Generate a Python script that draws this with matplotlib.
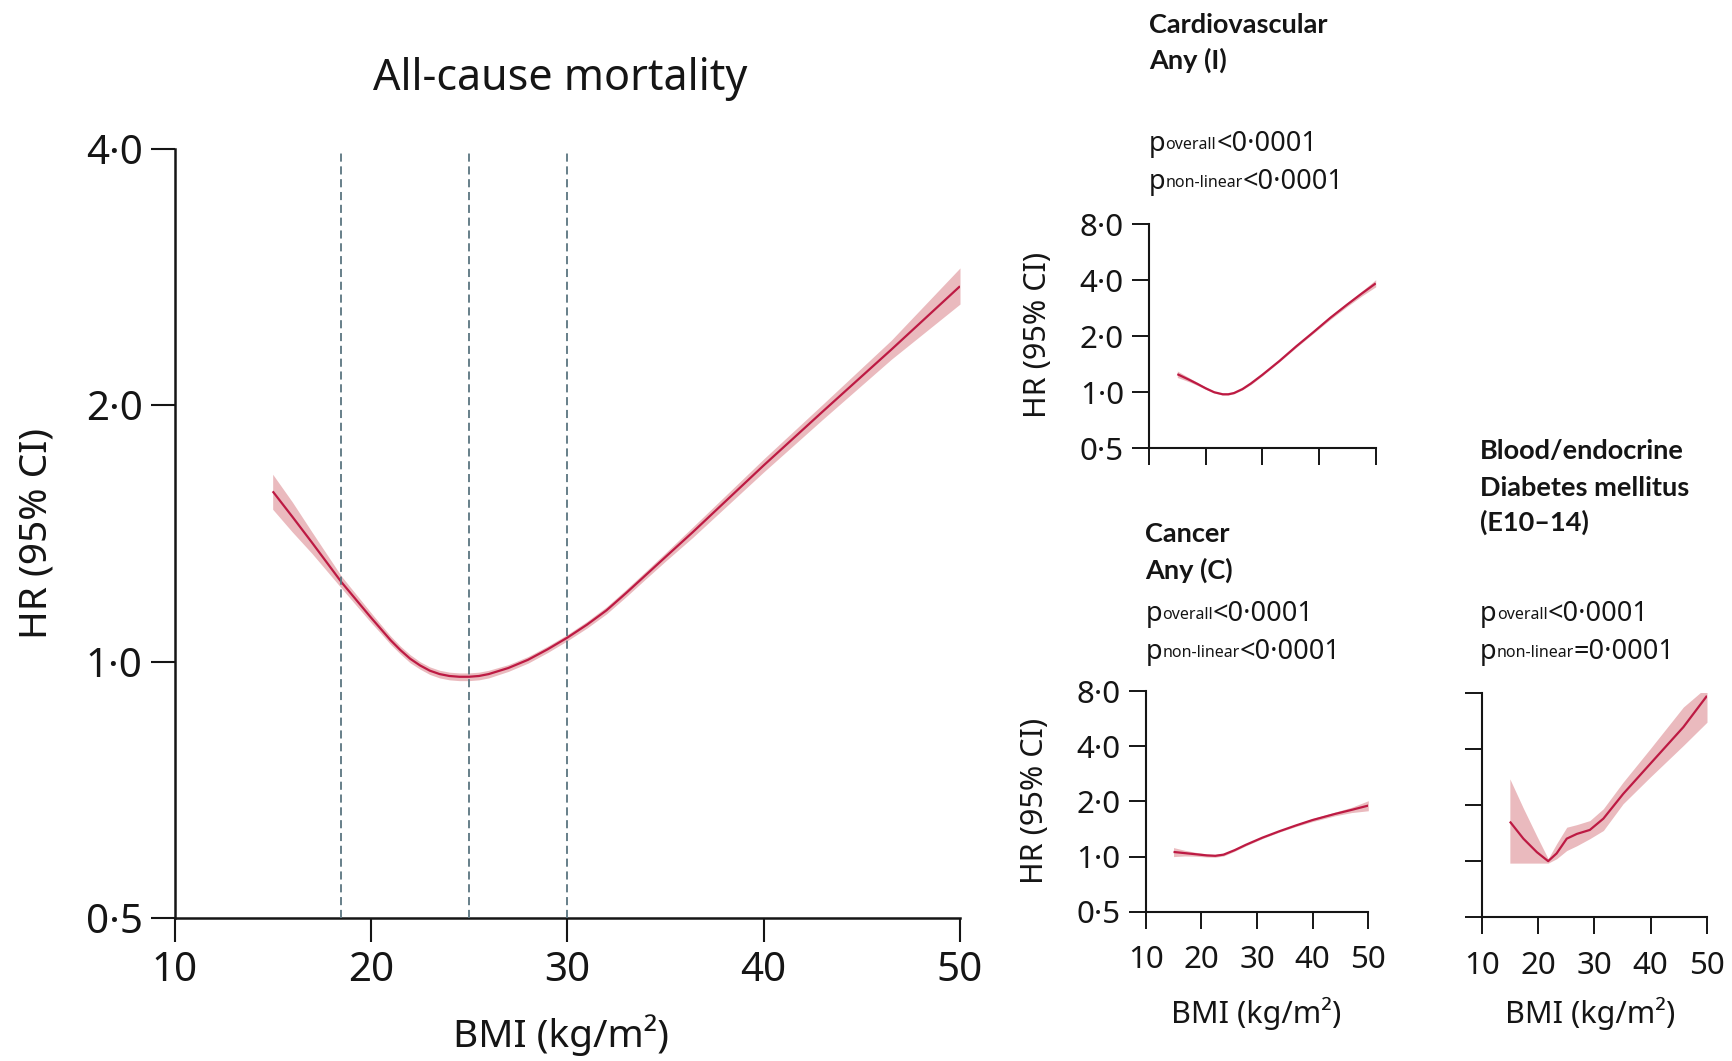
import matplotlib
matplotlib.use('Agg')
import matplotlib.pyplot as plt
from matplotlib.text import Annotation
from matplotlib.ticker import FixedLocator, FixedFormatter, NullLocator

plt.rcParams['font.family'] = ['Noto Sans', 'DejaVu Sans']

# ---------------- data ----------------
# All-cause mortality
allcause_bmi = [15, 16, 17, 18.5, 20, 20.5, 21, 21.5, 22, 22.5, 23, 23.5, 24, 24.5, 25, 25.5, 26, 27, 28, 29, 30,
                31, 32, 33, 34, 35, 36.4, 40, 43, 46.5, 50]
allcause_hr = [1.585, 1.48, 1.38, 1.24, 1.127, 1.093, 1.060, 1.032, 1.008, 0.990, 0.976, 0.967, 0.962, 0.960,
               0.960, 0.962, 0.967, 0.983, 1.005, 1.034, 1.067, 1.105, 1.149, 1.204, 1.264, 1.327, 1.42,
               1.70, 1.966, 2.325, 2.76]
allcause_lo = [1.51, 1.42, 1.34, 1.22, 1.112, 1.080, 1.048, 1.021, 0.997, 0.980, 0.966, 0.957, 0.952, 0.950,
               0.950, 0.952, 0.957, 0.974, 0.996, 1.025, 1.058, 1.095, 1.138, 1.192, 1.251, 1.312, 1.40,
               1.67, 1.925, 2.265, 2.63]
allcause_hi = [1.66, 1.54, 1.42, 1.26, 1.142, 1.106, 1.072, 1.043, 1.019, 1.000, 0.986, 0.977, 0.972, 0.970,
               0.970, 0.972, 0.977, 0.992, 1.014, 1.043, 1.076, 1.115, 1.160, 1.216, 1.277, 1.342, 1.44,
               1.73, 2.005, 2.385, 2.90]
bmi_cutoffs = [18.5, 25, 30]

# Cardiovascular, any (I)
cardio_bmi = [15, 17, 18.5, 20, 21.5, 23, 24, 25, 26.5, 28, 30, 33, 36, 39, 42, 45, 47.5, 50]
cardio_hr = [1.25, 1.17, 1.11, 1.05, 1.0, 0.975, 0.975, 0.99, 1.04, 1.115, 1.24, 1.47, 1.765, 2.10, 2.51, 2.96,
             3.38, 3.84]
cardio_lo = [1.20, 1.14, 1.09, 1.035, 0.99, 0.965, 0.966, 0.981, 1.03, 1.10, 1.225, 1.455, 1.74, 2.07, 2.46,
             2.89, 3.28, 3.68]
cardio_hi = [1.30, 1.20, 1.13, 1.065, 1.01, 0.985, 0.984, 0.999, 1.05, 1.13, 1.255, 1.49, 1.79, 2.14, 2.56,
             3.03, 3.48, 4.02]

# Cancer, any (C)
cancer_bmi = [15, 17, 19, 21, 22.5, 24, 26, 28, 31, 34, 37, 40, 44, 47, 50]
cancer_hr = [1.06, 1.045, 1.03, 1.015, 1.01, 1.025, 1.085, 1.16, 1.27, 1.375, 1.48, 1.585, 1.71, 1.80, 1.90]
cancer_lo = [1.0, 1.008, 1.005, 0.995, 0.992, 1.008, 1.07, 1.145, 1.255, 1.36, 1.46, 1.555, 1.67, 1.74, 1.78]
cancer_hi = [1.12, 1.083, 1.055, 1.035, 1.028, 1.042, 1.10, 1.175, 1.285, 1.39, 1.50, 1.615, 1.75, 1.86, 2.02]

# Blood/endocrine, diabetes mellitus (E10-14)
diab_bmi = [15, 17.4, 19.8, 21.8, 23.3, 25.1, 26.9, 29.2, 31.6, 35.1, 39.9, 45.8, 50]
diab_hr = [1.63, 1.32, 1.117, 1.0, 1.10, 1.32, 1.40, 1.47, 1.69, 2.29, 3.32, 5.23, 7.7]
diab_lo = [0.976, 0.976, 0.976, 0.976, 1.03, 1.14, 1.21, 1.32, 1.46, 2.03, 2.82, 4.17, 5.56]
diab_hi = [2.76, 1.92, 1.36, 1.03, 1.24, 1.52, 1.57, 1.65, 1.91, 2.65, 4.0, 6.7, 8.6]

x_ticks = [10, 20, 30, 40, 50]
x_ticklabels = ['10', '20', '30', '40', '50']
main_yticks = [0.5, 1.0, 2.0, 4.0]
main_yticklabels = ['0·5', '1·0', '2·0', '4·0']
small_yticks = [0.5, 1.0, 2.0, 4.0, 8.0]
small_yticklabels = ['0·5', '1·0', '2·0', '4·0', '8·0']

# ---------------- style ----------------
W, H = 1732, 1061
LINE = '#bd1a43'
BAND = '#e3a3a8'
DASH = '#5b7580'
INK = '#151515'
BOLD_FAMILY = ['Lato', 'Open Sans', 'DejaVu Sans']

fig = plt.figure(figsize=(W / 100, H / 100), dpi=100)


def px_axes(left, top, right, bottom):
    return fig.add_axes([left / W, 1 - bottom / H, (right - left) / W, (bottom - top) / H])


def setup(ax, ytop, yticks, ylabels, show_y, show_x, ticklen, tickw, spw, fs, xpad, ypad):
    ax.set_yscale('log')
    ax.set_xlim(10, 50)
    ax.set_ylim(0.5, ytop)
    ax.yaxis.set_major_locator(FixedLocator(yticks))
    ax.yaxis.set_minor_locator(NullLocator())
    ax.yaxis.set_major_formatter(FixedFormatter(ylabels if show_y else [''] * len(yticks)))
    ax.xaxis.set_major_locator(FixedLocator(x_ticks))
    ax.xaxis.set_minor_locator(NullLocator())
    ax.xaxis.set_major_formatter(FixedFormatter(x_ticklabels if show_x else [''] * len(x_ticks)))
    for s in ['top', 'right']:
        ax.spines[s].set_visible(False)
    for s in ['left', 'bottom']:
        ax.spines[s].set_linewidth(spw)
        ax.spines[s].set_color(INK)
    ax.tick_params(axis='both', which='major', direction='out', length=ticklen, width=tickw,
                   color=INK, labelsize=fs, labelcolor=INK)
    ax.tick_params(axis='x', pad=xpad)
    ax.tick_params(axis='y', pad=ypad)
    ax.patch.set_alpha(0)


def draw_curve(ax, x, y, lo, hi, lw):
    ax.fill_between(x, lo, hi, color=BAND, alpha=0.75, linewidth=0, zorder=2)
    ax.plot(x, y, color=LINE, lw=lw, zorder=3, solid_capstyle='butt', solid_joinstyle='round')


# ---- main panel ----
ax0 = px_axes(174.5, 149, 960, 918)
setup(ax0, 4.0, main_yticks, main_yticklabels, True, True, 17, 1.5, 1.8, 29, 7, 6)
draw_curve(ax0, allcause_bmi, allcause_hr, allcause_lo, allcause_hi, 1.6)
for c in bmi_cutoffs:
    ax0.axvline(c, color=DASH, lw=1.3, linestyle=(0, (4.5, 2.6)), zorder=4)
ax0.set_ylabel('HR (95% CI)', fontsize=28, color=INK, va='center')
ax0.yaxis.set_label_coords(-0.1757, 0.5)
ax0.set_xlabel('BMI (kg/m²)', fontsize=28, color=INK, va='center')
ax0.xaxis.set_label_coords(0.492, -0.152)
fig.text(560 / W, 1 - 90 / H, 'All-cause mortality', fontsize=31, ha='center', va='baseline', color=INK)

# ---- cardiovascular ----
ax1 = px_axes(1149, 224, 1375.7, 448.3)
setup(ax1, 8.0, small_yticks, small_yticklabels, True, False, 12, 1.4, 1.5, 22.5, 12, 6)
draw_curve(ax1, cardio_bmi, cardio_hr, cardio_lo, cardio_hi, 1.6)
ax1.set_ylabel('HR (95% CI)', fontsize=22, color=INK, va='center')
ax1.yaxis.set_label_coords(-0.49, 0.505)

# ---- cancer ----
ax2 = px_axes(1145.7, 691.3, 1368.3, 911.7)
setup(ax2, 8.0, small_yticks, small_yticklabels, True, True, 12, 1.4, 1.5, 22.5, 12, 6)
draw_curve(ax2, cancer_bmi, cancer_hr, cancer_lo, cancer_hi, 1.6)
ax2.set_ylabel('HR (95% CI)', fontsize=22, color=INK, va='center')
ax2.yaxis.set_label_coords(-0.497, 0.502)
ax2.set_xlabel('BMI (kg/m²)', fontsize=22, color=INK, va='center')
ax2.xaxis.set_label_coords(0.495, -0.46)

# ---- diabetes ----
ax3 = px_axes(1481.7, 692.7, 1707, 917.3)
setup(ax3, 8.0, small_yticks, small_yticklabels, False, True, 12, 1.4, 1.5, 22.5, 12, 6)
draw_curve(ax3, diab_bmi, diab_hr, diab_lo, diab_hi, 1.6)
ax3.set_xlabel('BMI (kg/m²)', fontsize=22, color=INK, va='center')
ax3.xaxis.set_label_coords(0.483, -0.426)


# ---- header texts ----
def header(x_px, base_px, txt):
    fig.text(x_px / W, 1 - base_px / H, txt, fontsize=19.5, fontweight='bold', family=BOLD_FAMILY,
             ha='left', va='baseline', color=INK)


def ptext(x_px, base_px, sub, rest):
    t1 = fig.text(x_px / W, 1 - base_px / H, 'p', fontsize=19.5, ha='left', va='baseline', color=INK)
    a2 = Annotation(sub, xy=(1, 0), xycoords=t1, xytext=(0, 3.5), textcoords='offset points',
                    fontsize=11.5, ha='left', va='bottom', color=INK)
    fig.add_artist(a2)
    a3 = Annotation(rest, xy=(1, 0), xycoords=(a2, t1), xytext=(0, 0), textcoords='offset points',
                    fontsize=19.5, ha='left', va='bottom', color=INK)
    fig.add_artist(a3)


header(1149, 33, 'Cardiovascular')
header(1149, 69, 'Any (I)')
ptext(1149, 151, 'overall', '<0·0001')
ptext(1149, 189, 'non-linear', '<0·0001')

header(1145.5, 542, 'Cancer')
header(1145.5, 579, 'Any (C)')
ptext(1145.5, 621, 'overall', '<0·0001')
ptext(1145.5, 659, 'non-linear', '<0·0001')

header(1480, 459.5, 'Blood/endocrine')
header(1480, 496, 'Diabetes mellitus')
header(1480, 531, '(E10–14)')
ptext(1480, 621, 'overall', '<0·0001')
ptext(1480, 659, 'non-linear', '=0·0001')

fig.savefig('out.png', dpi=100)
